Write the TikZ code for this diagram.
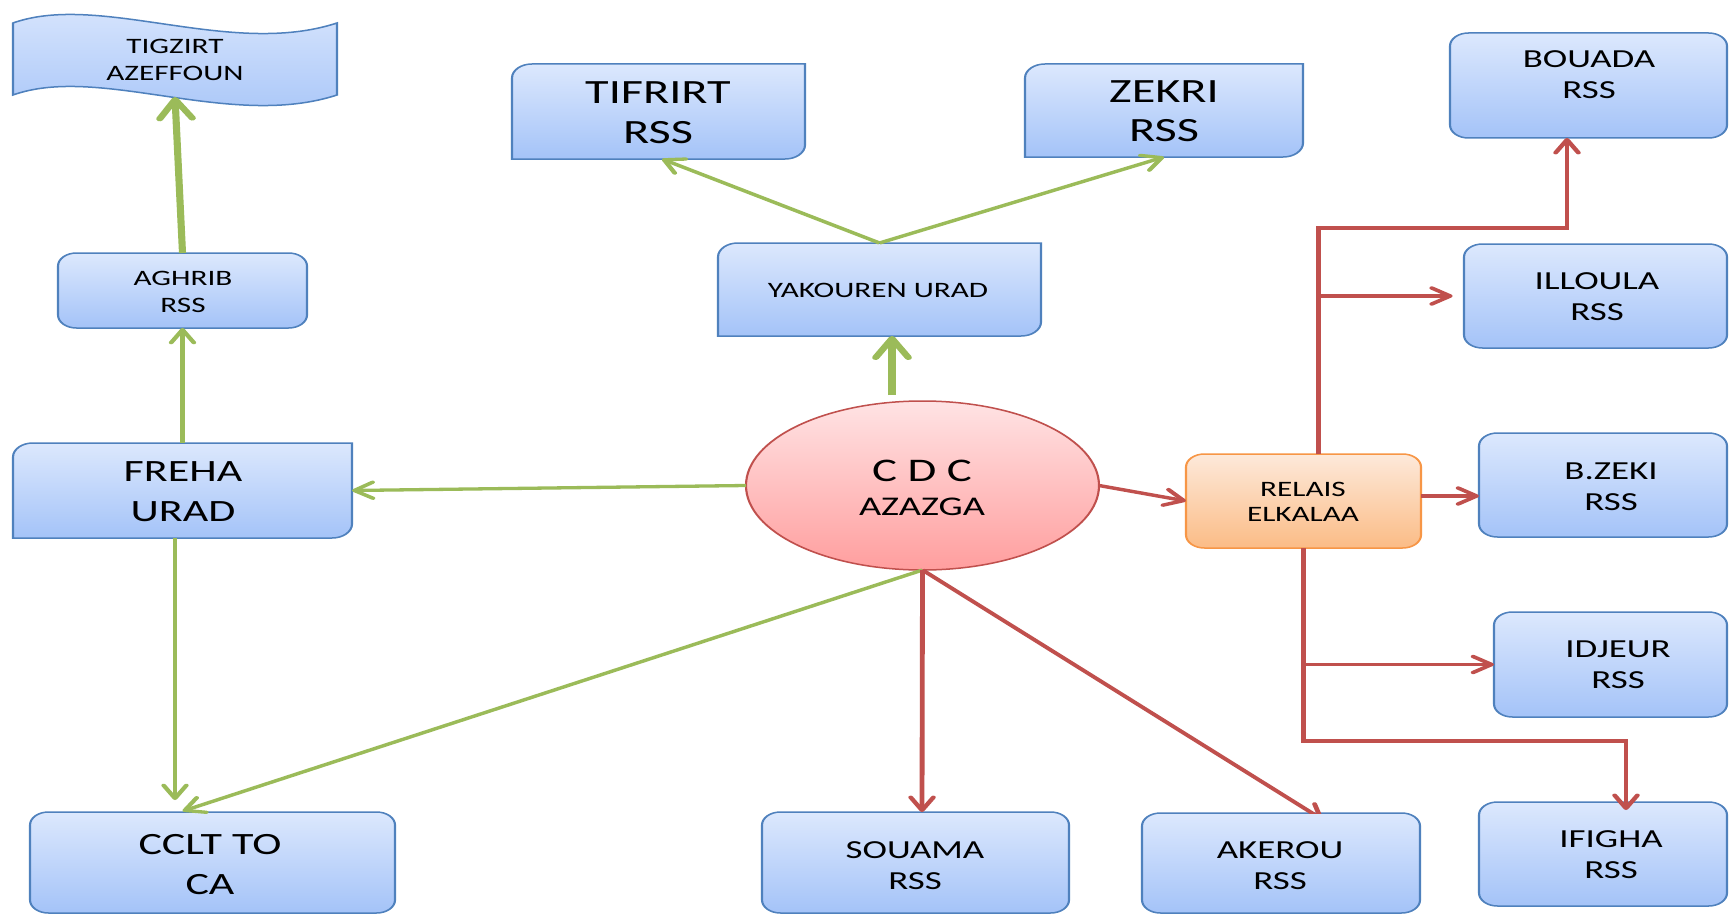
\documentclass[tikz,border=0pt]{standalone}
\usepackage{fontspec}
\setmainfont{Carlito}
\usetikzlibrary{arrows.meta,shapes.geometric,calc}

\definecolor{boxline}{HTML}{4F81BD}
\definecolor{boxtop}{HTML}{DCE8FD}
\definecolor{boxbot}{HTML}{A4C3F8}
\definecolor{cdcline}{HTML}{C0504D}
\definecolor{cdctop}{HTML}{FFE3E4}
\definecolor{cdcbot}{HTML}{FF9E9E}
\definecolor{relline}{HTML}{F79646}
\definecolor{reltop}{HTML}{FDE9DA}
\definecolor{relbot}{HTML}{FBBC86}
\definecolor{linkgreen}{HTML}{9BBB59}
\definecolor{linkred}{HTML}{C0504D}

\tikzset{
  boxsize/.style 2 args={minimum width={#1*0.704225pt}, minimum height=#2pt},
  rbox/.style={draw=boxline, line width=1.5pt, rounded corners=13pt,
    top color=boxtop, bottom color=boxbot, inner sep=0pt, outer sep=0pt},
  geom/.style={draw=none, inner sep=0pt, outer sep=0pt},
  diagfill/.style={draw=boxline, line width=1.5pt, top color=boxtop, bottom color=boxbot},
  relbox/.style={draw=relline, line width=1.5pt, rounded corners=13pt,
    top color=reltop, bottom color=relbot, inner sep=0pt, outer sep=0pt},
  cdcshape/.style={ellipse, draw=cdcline, line width=1.5pt,
    top color=cdctop, bottom color=cdcbot, inner sep=0pt, outer sep=0pt},
  txt/.style={align=center, inner sep=0pt, text=black},
  fsmall/.style={font=\fontsize{22}{26.5}\selectfont},
  fmed/.style={font=\fontsize{26}{31}\selectfont},
  fbig/.style={font=\fontsize{31}{40}\selectfont},
  fhuge/.style={font=\fontsize{34}{39.5}\selectfont},
  tipstd/.tip={Straight Barb[length=13pt, width=16pt, round]},
  tipthick/.tip={Straight Barb[length=19pt, width=23pt, round]},
  gline/.style={draw=linkgreen, line width=3.3pt, -tipstd},
  gthick/.style={draw=linkgreen, line width=5pt, -tipthick},
  rline/.style={draw=linkred, line width=3.4pt, -tipstd},
}

% draws a box with the top-left and bottom-right corners rounded
\newcommand\diagcorners[1]{%
  \path[diagfill] ($(#1.north west)+(0,14)$) arc[start angle=180, end angle=90, radius=14pt]
    -- (#1.north east) -- ($(#1.south east)+(0,-14)$)
    arc[start angle=0, end angle=-90, radius=14pt] -- (#1.south west) -- cycle;}

\begin{document}
\begin{tikzpicture}[x=1pt, y=-1pt]
\useasboundingbox (0,0) rectangle (1729,915);
\fill[white] (0,0) rectangle (1729,915);
\begin{scope}[x=0.704225pt, transform canvas={xscale=1.42}]

% ---- wave banner (Tigzirt) ----
\path[diagfill] (13,23) .. controls (100,-8) and (230,58) .. (337,23)
  -- (337,95) .. controls (230,130) and (100,64) .. (13,95) -- cycle;
\coordinate (tigzirt-port) at (175,97);

% ---- boxes with rounded corners ----
\node[rbox, boxsize={277}{105}] (bouada)  at (1588.5,85.5) {};
\node[rbox, boxsize={263}{104}] (illoula) at (1595.5,296) {};
\node[rbox, boxsize={248}{104}] (bzeki)   at (1603,485) {};
\node[rbox, boxsize={233}{105}] (idjeur)  at (1610.5,664.5) {};
\node[rbox, boxsize={248}{104}] (ifigha)  at (1603,854) {};
\node[rbox, boxsize={278}{100}] (akerou)  at (1281,863) {};
\node[rbox, boxsize={307}{101}] (souama)  at (915.5,862.5) {};
\node[rbox, boxsize={365}{101}] (cclt)    at (212.5,862.5) {};
\node[rbox, boxsize={249}{75}]  (aghrib)  at (182.5,290.5) {};
\node[relbox, boxsize={235}{94}] (relais) at (1303.5,501) {};
\node[cdcshape, boxsize={353}{169}] (cdc) at (922.5,485.5) {};

% ---- boxes with two rounded corners ----
\node[geom, boxsize={339}{95}] (freha)    at (182.5,490.5) {};
\node[geom, boxsize={293}{95}] (tifrirt)  at (658.5,111.5) {};
\node[geom, boxsize={278}{93}] (zekri)    at (1164,110.5) {};
\node[geom, boxsize={323}{93}] (yakouren) at (879.5,289.5) {};
\diagcorners{freha}
\diagcorners{tifrirt}
\diagcorners{zekri}
\diagcorners{yakouren}

% ---- labels ----
\node[txt, fsmall] (tigzirt-t)  at (175,60)     {TIGZIRT\\AZEFFOUN};
\node[txt, fhuge]  (tifrirt-t)  at (658,112.5)  {TIFRIRT\\RSS};
\node[txt, fhuge]  (zekri-t)    at (1164,111)   {ZEKRI\\RSS};
\node[txt, fmed]   (bouada-t)   at (1589,75)    {BOUADA\\RSS};
\node[txt, fsmall] (aghrib-t)   at (183,292)    {AGHRIB\\RSS};
\node[txt, fsmall] (yakouren-t) at (878,290)    {YAKOUREN URAD};
\node[txt, fmed]   (illoula-t)  at (1597,297)   {ILLOULA\\RSS};
\node[txt, fbig]   (freha-t)    at (183,492)    {FREHA\\URAD};
\node[txt, font=\fontsize{33}{34}\selectfont] (cdc-t) at (922,487.7)
  {C D C\\{\fontsize{27}{34}\selectfont AZAZGA}};
\node[txt, font=\fontsize{22}{25}\selectfont] (relais-t) at (1303,501.5) {RELAIS\\ELKALAA};
\node[txt, fmed]   (bzeki-t)    at (1611,486.5) {B.ZEKI\\RSS};
\node[txt, fmed]   (idjeur-t)   at (1618,665)   {IDJEUR\\RSS};
\node[txt, fmed]   (ifigha-t)   at (1611,855)   {IFIGHA\\RSS};
\node[txt, fbig]   (cclt-t)     at (210,865)    {CCLT TO\\CA};
\node[txt, fmed]   (souama-t)   at (915,865.5)  {SOUAMA\\RSS};
\node[txt, fmed]   (akerou-t)   at (1280,865.5) {AKEROU\\RSS};

% ---- green links ----
\draw[gthick] (aghrib.north) -- (tigzirt-port);
\draw[gline] (freha.north) -- (aghrib.south);
\draw[gline, shorten >=12pt] ($(freha.south)+(-7.5,0)$) -- ($(cclt.north)+(-37.5,0)$);
\draw[gline, shorten >=2pt] (cdc.south) -- ($(cclt.north)+(-32.5,0)$);
\draw[gline] (cdc.west) -- (freha.east);
\coordinate (cdc-top) at ($(cdc.north)+(-30.5,-6)$);
\draw[gthick] (cdc-top) -- ($(yakouren.south)+(12.5,0)$);
\draw[gline] (yakouren.north) -- ($(tifrirt.south)+(3.5,0)$);
\draw[gline] (yakouren.north) -- (zekri.south);

% ---- red links ----
\draw[rline] (cdc.south) -- ($(souama.north)+(6.5,0)$);
% the Akerou link runs under the box: clip it at the box's top edge
\begin{scope}
\clip (cdc.north west) rectangle (akerou.north east);
\draw[rline, shorten >=-10pt] (cdc.south) -- ($(akerou.north)+(31,0)$);
\end{scope}
\draw[rline] (cdc.east) -- (relais.west);
\coordinate (up-trunk) at ($(relais.north)+(15,0)$);
\draw[rline] (up-trunk) -- ++(0,-226) -| ($(bouada.south)+(-21.5,0)$);
\draw[rline, shorten >=8pt] (up-trunk |- illoula.west) -- (illoula.west);
\coordinate (bz-in) at ($(bzeki.west)+(0,11)$);
\draw[rline] (relais.east |- bz-in) -- (bz-in);
\draw[rline, shorten >=-8pt] (relais.south) -- ++(0,193) -| ($(ifigha.north)+(23,0)$);
\draw[rline] (relais.south |- idjeur.west) -- (idjeur.west);
\end{scope}
\end{tikzpicture}
\end{document}
